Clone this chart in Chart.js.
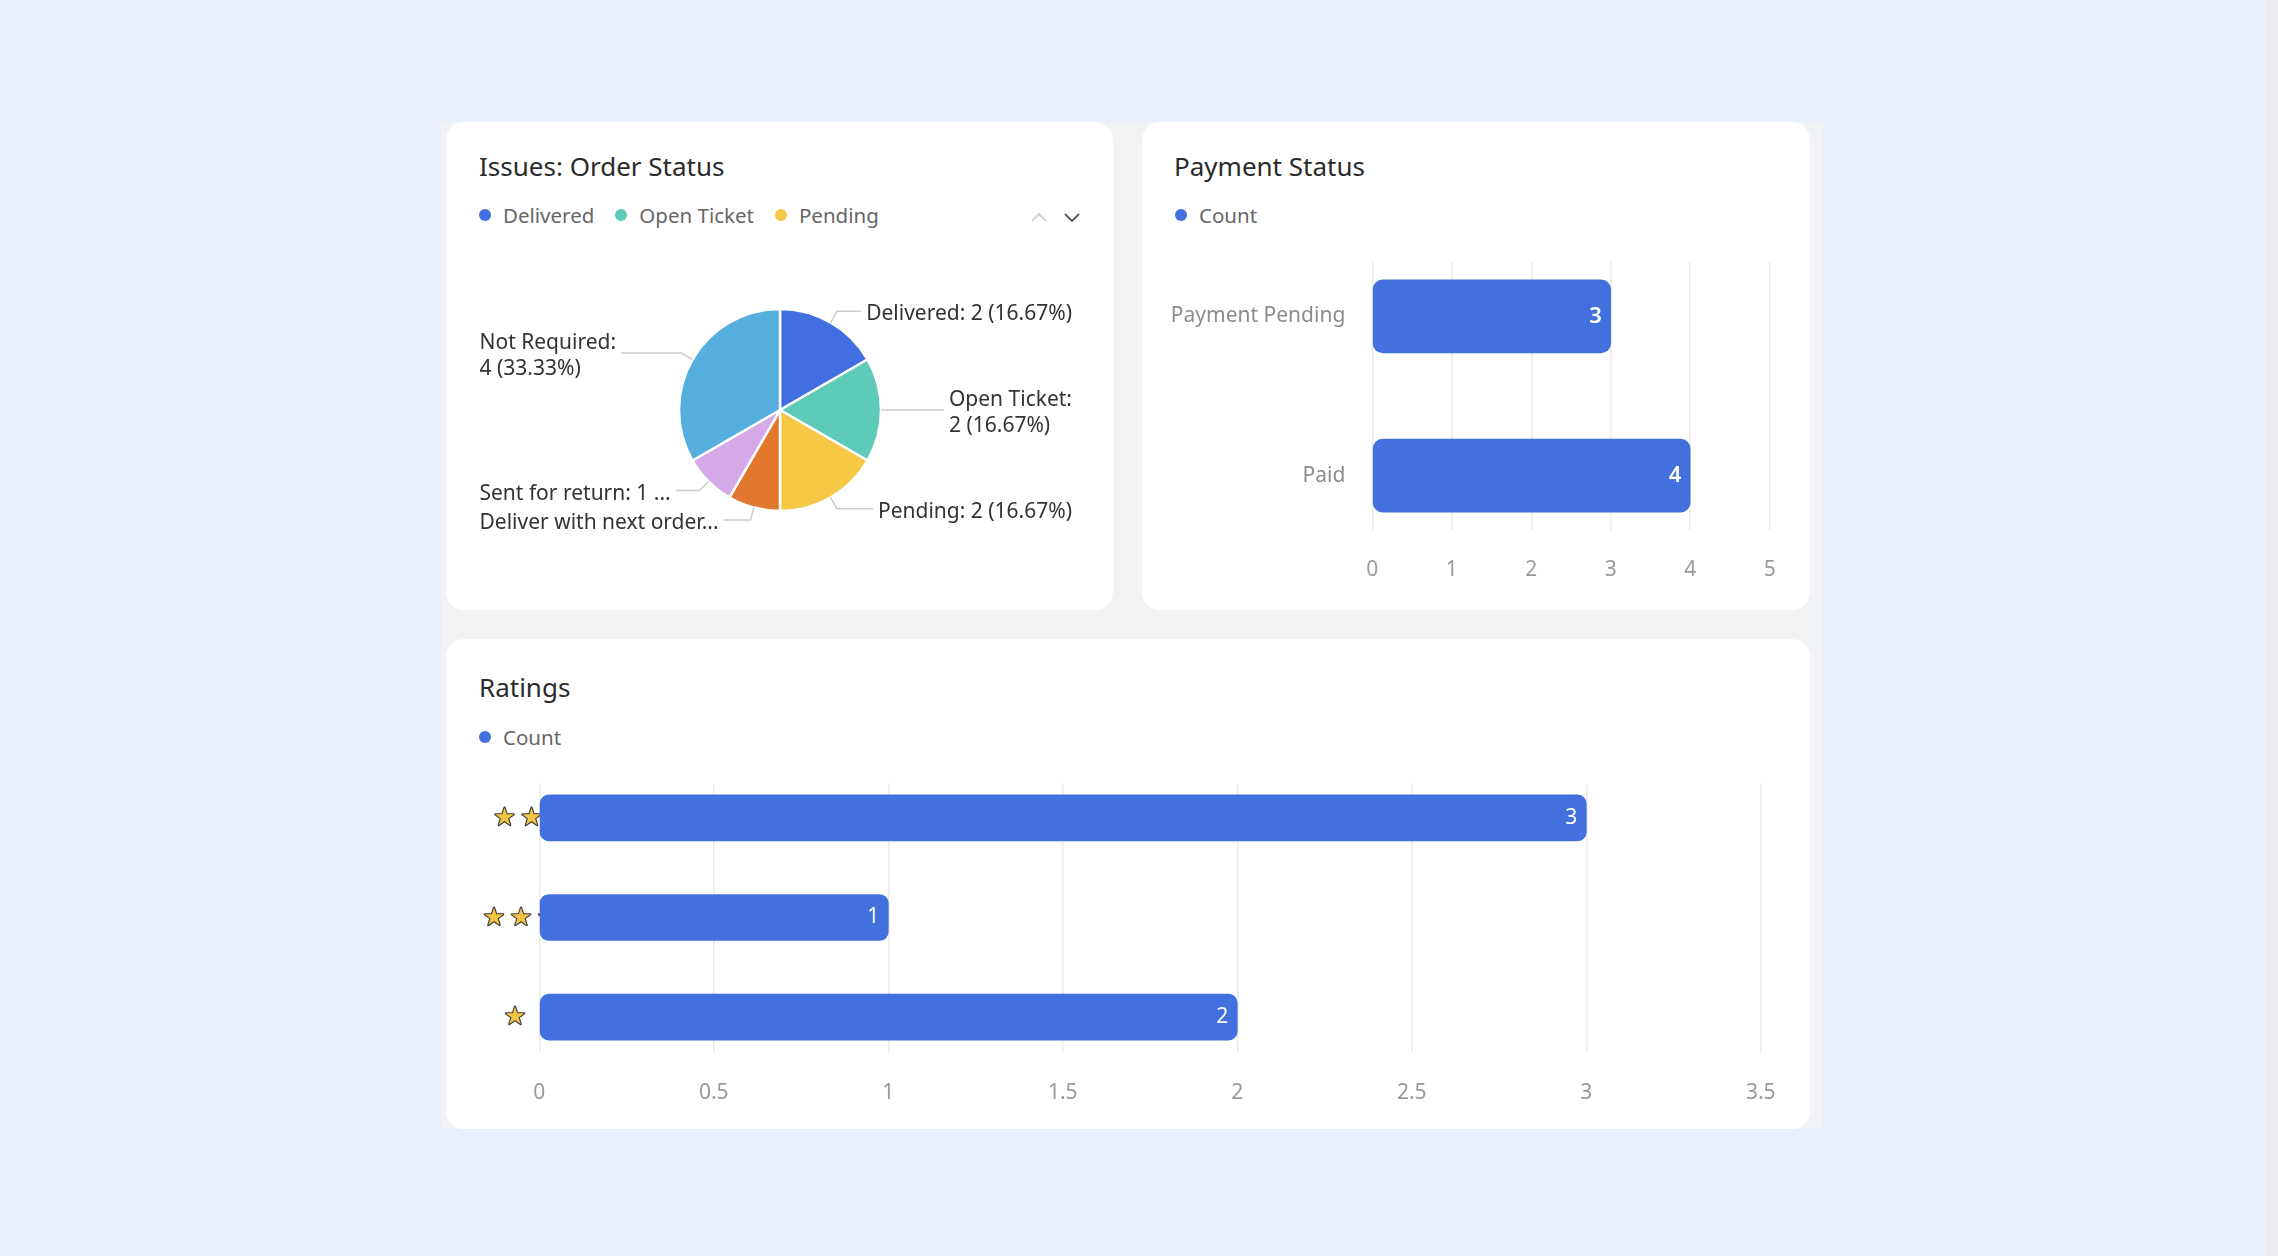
<!DOCTYPE html>
<html>
<head>
<meta charset="utf-8">
<script src="https://cdn.jsdelivr.net/npm/chart.js@4.4.1/dist/chart.umd.min.js"></script>
<style>
html,body{margin:0;padding:0;}
body{width:2278px;height:1256px;background:#E9F0FC;position:relative;overflow:hidden;font-family:'Noto Sans',sans-serif;}
#scroll{position:absolute;left:2266px;top:0;width:12px;height:1256px;background:#EBECF0;}
#wrap{position:absolute;left:441px;top:122px;width:1382px;height:1007px;background:#F2F3F5;}
.card{position:absolute;background:#fff;border-radius:18px;}
.title{position:absolute;font-size:26px;color:#2b2b2b;line-height:36px;white-space:nowrap;}
.legend{position:absolute;display:flex;align-items:center;height:30px;font-size:20.5px;color:#666;white-space:nowrap;}
.legend .item{display:flex;align-items:center;margin-right:21px;}
.legend .dot{width:12px;height:12px;border-radius:50%;margin-right:12px;}
.arrows{position:absolute;}
canvas{position:absolute;}
</style>
</head>
<body>
<div id="scroll"></div>
<div id="wrap"></div>
<div class="card" style="left:446px;top:122px;width:667px;height:488px;"></div>
<div class="card" style="left:1142px;top:122px;width:668px;height:488px;"></div>
<div class="card" style="left:446px;top:639px;width:1364px;height:490px;"></div>

<div class="title" style="left:479px;top:148px;">Issues: Order Status</div>
<div class="title" style="left:1174px;top:148px;">Payment Status</div>
<div class="title" style="left:479px;top:669px;">Ratings</div>

<div class="legend" id="legPie" style="left:479px;top:200px;"></div>
<div class="legend" id="legPay" style="left:1175px;top:200px;"></div>
<div class="legend" id="legRat" style="left:479px;top:722px;"></div>

<svg class="arrows" style="left:1030px;top:209px;" width="56" height="16" viewBox="0 0 56 16">
  <polyline points="2,12 9,5 16,12" fill="none" stroke="#cfcfcf" stroke-width="1.8"/>
  <polyline points="35,5 42,12 49,5" fill="none" stroke="#555" stroke-width="1.8"/>
</svg>

<canvas id="pie" style="left:446px;top:250px;" width="668" height="350"></canvas>
<canvas id="pay" style="left:1142px;top:240px;" width="668" height="370"></canvas>
<canvas id="rat" style="left:446px;top:740px;" width="1364" height="390"></canvas>

<script>
// ---------- data ----------
const pieCategories = ['Delivered', 'Open Ticket', 'Pending', 'Deliver with next order', 'Sent for return', 'Not Required'];
const pieCounts = [2, 2, 2, 1, 1, 4];
const pieColors = ['#416EE0', '#5ECBB9', '#F5C846', '#E1782D', '#D5A8E8', '#56AEDE'];
const pieLegendShown = 3;

const paymentCategories = ['Payment Pending', 'Paid'];
const paymentCounts = [3, 4];
const paymentAxis = [0, 5, 1];      // min, max, step

const ratingCategories = ['★★', '★★★', '★'];
const ratingCounts = [3, 1, 2];
const ratingAxis = [0, 3.5, 0.5];   // min, max, step

const seriesName = 'Count';
const barColor = '#4270DE';

// ---------- legends (HTML) ----------
function buildLegend(id, names, colors) {
  const el = document.getElementById(id);
  names.forEach((n, i) => {
    const it = document.createElement('div'); it.className = 'item';
    const d = document.createElement('div'); d.className = 'dot'; d.style.background = colors[i];
    const t = document.createElement('span'); t.textContent = n;
    it.appendChild(d); it.appendChild(t); el.appendChild(it);
  });
}
buildLegend('legPie', pieCategories.slice(0, pieLegendShown), pieColors);
buildLegend('legPay', [seriesName], [barColor]);
buildLegend('legRat', [seriesName], [barColor]);

Chart.defaults.font.family = "'Noto Sans', sans-serif";
Chart.defaults.animation = false;

// ---------- plugins ----------
const pieLabelPlugin = {
  id: 'pieLabels',
  afterDatasetsDraw(chart, args, o) {
    const ctx = chart.ctx;
    const meta = chart.getDatasetMeta(0);
    const data = chart.data.datasets[0].data;
    const names = chart.data.labels;
    const total = data.reduce((a, b) => a + b, 0);
    ctx.save();
    ctx.font = o.font;
    const items = meta.data.map((arc, i) => {
      const p = arc.getProps(['x', 'y', 'startAngle', 'endAngle', 'outerRadius'], true);
      const a = (p.startAngle + p.endAngle) / 2;
      const c = Math.cos(a), s = Math.sin(a);
      return {
        i, right: c >= 0,
        p1: {x: p.x + c * p.outerRadius, y: p.y + s * p.outerRadius},
        p2: {x: p.x + c * (p.outerRadius + o.len1), y: p.y + s * (p.outerRadius + o.len1)}
      };
    });
    const W = t => ctx.measureText(t).width;
    const trunc = (t, avail) => {
      if (W(t) <= avail) return t;
      let s = t;
      while (s.length > 1 && W(s + '...') > avail) s = s.slice(0, -1);
      return s + '...';
    };
    items.forEach(it => {
      const v = data[it.i];
      const pct = (v / total * 100).toFixed(2);
      const head = names[it.i] + ':';
      const tail = v + ' (' + pct + '%)';
      const full = head + ' ' + tail;
      const avail = it.right ? (o.edgeR - it.p2.x - o.minSeg) : (it.p2.x - o.minSeg - o.edgeL);
      let minD = Infinity;
      items.forEach(j => { if (j !== it && j.right === it.right) minD = Math.min(minD, Math.abs(j.p2.y - it.p2.y)); });
      const maxLines = minD >= 2 * o.lineHeight ? 2 : 1;
      let lines;
      if (W(full) <= avail) lines = [full];
      else if (maxLines >= 2) lines = [trunc(head, avail), trunc(tail, avail)];
      else lines = [trunc(full, avail)];
      const w = Math.max(...lines.map(W));
      const endX = it.right ? o.edgeR - w - o.gap : o.edgeL + w + o.gap;
      ctx.strokeStyle = o.lineColor; ctx.lineWidth = o.lineWidth;
      ctx.beginPath();
      ctx.moveTo(it.p1.x, it.p1.y); ctx.lineTo(it.p2.x, it.p2.y); ctx.lineTo(endX, it.p2.y);
      ctx.stroke();
      ctx.fillStyle = o.color;
      ctx.textBaseline = 'middle';
      ctx.textAlign = 'left';
      const x = it.right ? o.edgeR - w : o.edgeL;
      const y0 = it.p2.y - (lines.length - 1) * o.lineHeight / 2 + o.textDy;
      lines.forEach((l, k) => ctx.fillText(l, x, y0 + k * o.lineHeight));
    });
    ctx.restore();
  }
};

const barValuePlugin = {
  id: 'barValues',
  afterDatasetsDraw(chart, args, o) {
    const ctx = chart.ctx;
    const meta = chart.getDatasetMeta(0);
    const ds = chart.data.datasets[0];
    ctx.save();
    ctx.font = o.font; ctx.fillStyle = o.color;
    ctx.textAlign = 'right'; ctx.textBaseline = 'middle';
    meta.data.forEach((bar, i) => {
      const p = bar.getProps(['x', 'y'], true);
      ctx.fillText(String(ds.data[i].x), p.x - o.offset, p.y + o.dy);
    });
    ctx.restore();
  }
};

const starLabelPlugin = {
  id: 'starLabels',
  beforeDatasetsDraw(chart, args, o) {
    const ctx = chart.ctx;
    const ys = chart.scales.y;
    const x0 = chart.chartArea.left;
    ctx.save();
    ctx.font = o.font; ctx.textAlign = 'center'; ctx.textBaseline = 'middle';
    ctx.lineJoin = 'round';
    ratingCategories.forEach((lab, i) => {
      const chars = Array.from(lab);
      const py = ys.getPixelForValue(i) + o.dy;
      const start = x0 - o.gap - chars.length * o.measured;
      chars.forEach((ch, k) => {
        const cx = start + o.half + k * o.advance;
        ctx.lineWidth = o.strokeWidth; ctx.strokeStyle = o.stroke;
        ctx.strokeText(ch, cx, py);
        ctx.fillStyle = o.fill;
        ctx.fillText(ch, cx, py);
      });
    });
    ctx.restore();
  }
};

// ---------- pie ----------
new Chart(document.getElementById('pie'), {
  type: 'pie',
  data: {
    labels: pieCategories,
    datasets: [{ data: pieCounts, backgroundColor: pieColors, borderColor: '#ffffff', borderWidth: 2.5, radius: 101 }]
  },
  options: {
    responsive: false,
    layout: { padding: { left: 100, right: 100, top: 0, bottom: 30 } },
    plugins: {
      legend: { display: false },
      tooltip: { enabled: false },
      pieLabels: {
        font: "21px 'Noto Sans', sans-serif", color: '#333333',
        edgeL: 33.5, edgeR: 626, len1: 13, minSeg: 26, gap: 5, textDy: 3,
        lineHeight: 26, lineColor: '#cccccc', lineWidth: 1.5
      }
    }
  },
  plugins: [pieLabelPlugin]
});

// ---------- helper for horizontal bars ----------
function barChart(canvasId, cats, counts, axis, cfg) {
  return new Chart(document.getElementById(canvasId), {
    type: 'bar',
    data: {
      datasets: [{
        label: seriesName,
        data: counts.map((v, i) => ({ x: v, y: i })),
        backgroundColor: barColor,
        borderRadius: cfg.radius,
        borderSkipped: false,
        barThickness: cfg.thickness
      }]
    },
    options: {
      responsive: false,
      indexAxis: 'y',
      layout: { padding: cfg.padding },
      scales: {
        x: {
          type: 'linear', min: axis[0], max: axis[1],
          ticks: { stepSize: axis[2], color: '#9a9a9a', font: { size: 21 }, padding: cfg.xPad, callback: v => String(v) },
          grid: { color: '#EAEAEA', lineWidth: 1.5, drawTicks: false },
          border: { display: false },
          afterFit: s => { s.height = cfg.xHeight; }
        },
        y: {
          type: 'linear', reverse: true, offset: false,
          min: -cfg.edge, max: cats.length - 1 + cfg.edge,
          display: cfg.yDisplay,
          afterBuildTicks: s => { s.ticks = cats.map((c, i) => ({ value: i })); },
          ticks: { autoSkip: false, color: '#8c8c8c', font: { size: 21 }, padding: 19, callback: v => cats[v] },
          grid: { display: false, offset: false },
          border: { display: false },
          afterFit: s => { s.width = cfg.yWidth; s.paddingTop = 0; s.paddingBottom = 0; }
        }
      },
      plugins: {
        legend: { display: false },
        tooltip: { enabled: false },
        barValues: { font: cfg.valueFont, color: '#ffffff', offset: 9, dy: 0 },
        starLabels: { font: "24px 'DejaVu Sans'", fill: '#F4C542', stroke: '#3a3a3a', strokeWidth: 2.2,
                      gap: 23.8, measured: 10.5, half: 10, advance: 27, dy: 1 }
      }
    },
    plugins: cfg.plugins
  });
}

barChart('pay', paymentCategories, paymentCounts, paymentAxis, {
  radius: 10, thickness: 73, edge: 0.342, yDisplay: true, yWidth: 230.3, xPad: 27.4, xHeight: 58,
  padding: { left: 0, right: 40.3, top: 22, bottom: 22 },
  valueFont: "600 22px 'Noto Sans', sans-serif",
  plugins: [barValuePlugin]
});

barChart('rat', ratingCategories, ratingCounts, ratingAxis, {
  radius: 9, thickness: 46, edge: 0.35, yDisplay: false, yWidth: 0, xPad: 28.4, xHeight: 60,
  padding: { left: 93.3, right: 49.2, top: 43, bottom: 18 },
  valueFont: "21px 'Noto Sans', sans-serif",
  plugins: [barValuePlugin, starLabelPlugin]
});
</script>
</body>
</html>
